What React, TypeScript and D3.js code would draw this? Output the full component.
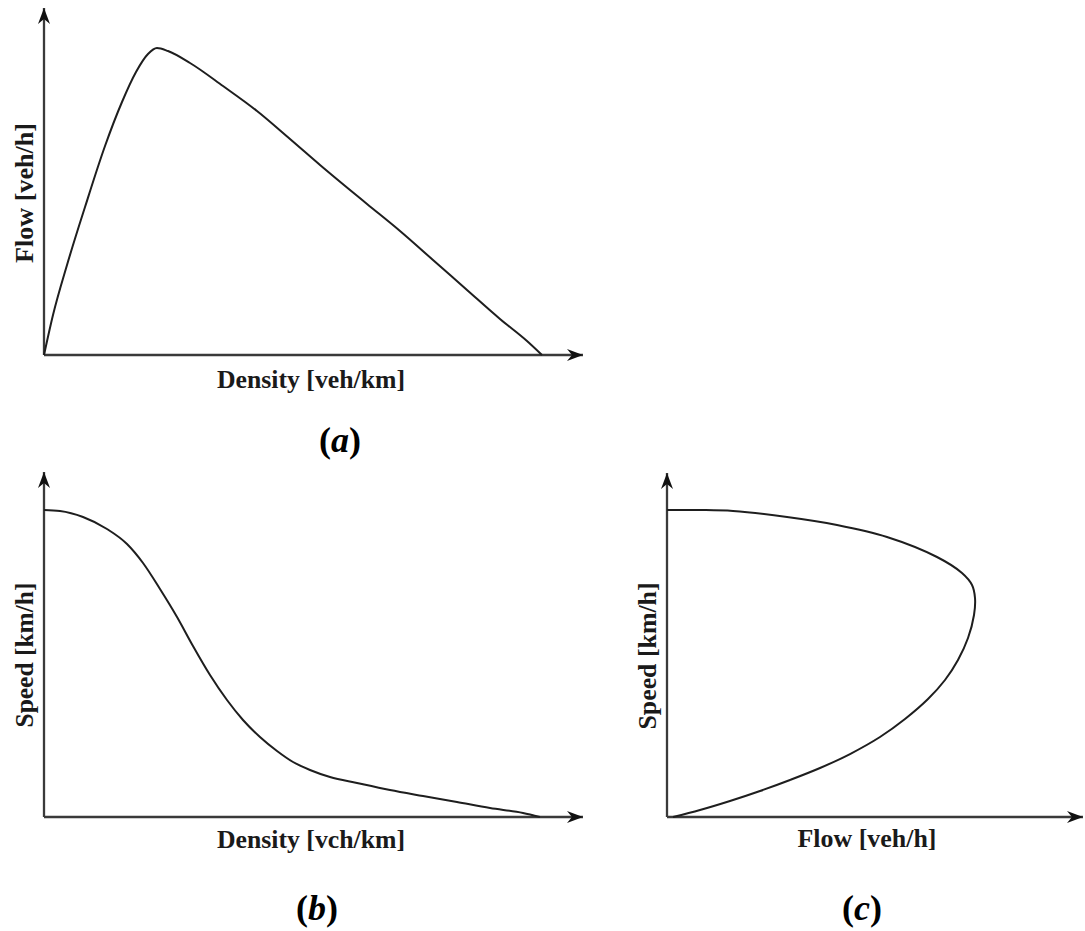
import * as React from "react";
import * as d3 from "d3";

// Panel (a): flow vs density, normalised units (0-100 on each axis)
const flowDensity: [number, number][] = [
    [0, 0], [1.67, 11.53], [4.27, 25.94], [7.61, 42.65], [11.32, 60.23],
    [14.47, 72.91], [17.07, 81.56], [19.29, 86.74], [20.96, 88.47],
    [23.0, 87.6], [27.09, 84.15], [33.21, 77.52], [39.52, 70.32], [45.64, 62.25],
    [51.21, 54.76], [59.93, 43.52], [66.05, 35.73], [72.17, 27.38], [78.48, 18.73],
    [84.6, 10.37], [89.61, 4.03], [92.39, 0]
];

// Panel (b): speed vs density
const speedDensity: [number, number][] = [
    [0, 88.99], [2.97, 88.7], [7.24, 86.96], [11.69, 83.48], [15.4, 79.13],
    [18.37, 73.62], [21.52, 66.09], [24.68, 57.97], [27.64, 49.57], [30.8, 41.16],
    [33.95, 33.91], [36.92, 28.12], [40.07, 23.19], [43.23, 19.13], [46.2, 15.94],
    [49.35, 13.62], [53.06, 11.59], [58.07, 9.86], [64.19, 7.83], [70.32, 6.09],
    [76.62, 4.35], [82.75, 2.61], [88.87, 1.16], [92.02, 0]
];

// Panel (c): speed vs flow (out along the top branch, back along the lower one)
const speedFlow: [number, number][] = [
    [0, 89.24], [7.93, 89.24], [15.87, 88.95], [28.85, 87.21], [40.87, 84.88],
    [52.88, 81.4], [64.9, 75.58], [70.91, 70.93], [73.32, 67.44], [74.04, 63.66],
    [73.8, 58.72], [72.36, 52.03], [69.95, 45.64], [66.83, 39.83], [62.74, 34.3],
    [57.21, 28.49], [51.2, 23.26], [43.99, 18.31], [36.78, 14.24], [29.57, 10.76],
    [22.36, 7.56], [15.14, 4.65], [7.93, 2.03], [1.44, 0]
];

const xLabels = ["Density [veh/km]", "Density [vch/km]", "Flow [veh/h]"];
const yLabels = ["Flow [veh/h]", "Speed [km/h]", "Speed [km/h]"];
const captions = ["a", "b", "c"];

const FONT = "'Liberation Serif', 'Times New Roman', serif";

interface PanelProps {
    data: [number, number][],
    curve: d3.CurveFactory,
    x0: number, x1: number, y0: number, y1: number,
    xLabel: string, yLabel: string, caption: string,
    xLabelX: number, xLabelY: number, xLabelLen: number,
    yLabelX: number, yLabelY: number, yLabelLen: number,
    capX: number, capY: number
}

function Panel(p: PanelProps) {
    let x = d3.scaleLinear().domain([0, 100]).range([p.x0, p.x1]);
    let y = d3.scaleLinear().domain([0, 100]).range([p.y0, p.y1]);
    let line = d3.line<[number, number]>()
        .x(d => x(d[0]))
        .y(d => y(d[1]))
        .curve(p.curve);

    let axisColor = "#3a3a3a";
    // notched arrow head, drawn pointing right, then rotated
    let head = "M0,0 L-16,-6 L-11,0 L-16,6 Z";

    return (
        <g>
            <line x1={x(0)} y1={y(0)} x2={x(100)} y2={y(0)} stroke={axisColor} strokeWidth={2.3} />
            <line x1={x(0)} y1={y(0)} x2={x(0)} y2={y(100)} stroke={axisColor} strokeWidth={2.3} />
            <path d={head} transform={`translate(${x(100)},${y(0)})`} fill="#111" />
            <path d={head} transform={`translate(${x(0)},${y(100)}) rotate(-90)`} fill="#111" />
            <path d={line(p.data) || ""} fill="none" stroke="#1e1e1e" strokeWidth={2} />
            <text x={p.xLabelX} y={p.xLabelY} textAnchor="middle" fontFamily={FONT} fontWeight="bold"
                fontSize={26} fill="#1a1a1a" textLength={p.xLabelLen} lengthAdjust="spacingAndGlyphs">{p.xLabel}</text>
            <text transform={`translate(${p.yLabelX},${p.yLabelY}) rotate(-90)`} textAnchor="middle" fontFamily={FONT}
                fontWeight="bold" fontSize={26} fill="#1a1a1a" textLength={p.yLabelLen} lengthAdjust="spacingAndGlyphs">{p.yLabel}</text>
            <text x={p.capX} y={p.capY} textAnchor="middle" fontFamily={FONT} fontWeight="bold" fontSize={36} fill="#000">
                (<tspan fontStyle="italic">{p.caption}</tspan>)
            </text>
        </g>
    );
}

export default function App() {
    return (
        <svg width={1085} height={931} style={{ position: "absolute", left: 0, top: 0, background: "#fff" }}>
            <Panel data={flowDensity} curve={d3.curveMonotoneX} x0={44} x1={583} y0={355} y1={8}
                xLabel={xLabels[0]} yLabel={yLabels[0]} caption={captions[0]}
                xLabelX={311} xLabelY={388} xLabelLen={188}
                yLabelX={33} yLabelY={193} yLabelLen={140}
                capX={340} capY={452} />
            <Panel data={speedDensity} curve={d3.curveMonotoneX} x0={44} x1={583} y0={817} y1={472}
                xLabel={xLabels[1]} yLabel={yLabels[1]} caption={captions[1]}
                xLabelX={311} xLabelY={848} xLabelLen={188}
                yLabelX={33} yLabelY={655} yLabelLen={145}
                capX={317} capY={920} />
            <Panel data={speedFlow} curve={d3.curveCatmullRom.alpha(0.5)} x0={667} x1={1083} y0={817} y1={473}
                xLabel={xLabels[2]} yLabel={yLabels[2]} caption={captions[2]}
                xLabelX={867} xLabelY={847} xLabelLen={139}
                yLabelX={656} yLabelY={656} yLabelLen={147}
                capX={862} capY={920} />
        </svg>
    );
}
